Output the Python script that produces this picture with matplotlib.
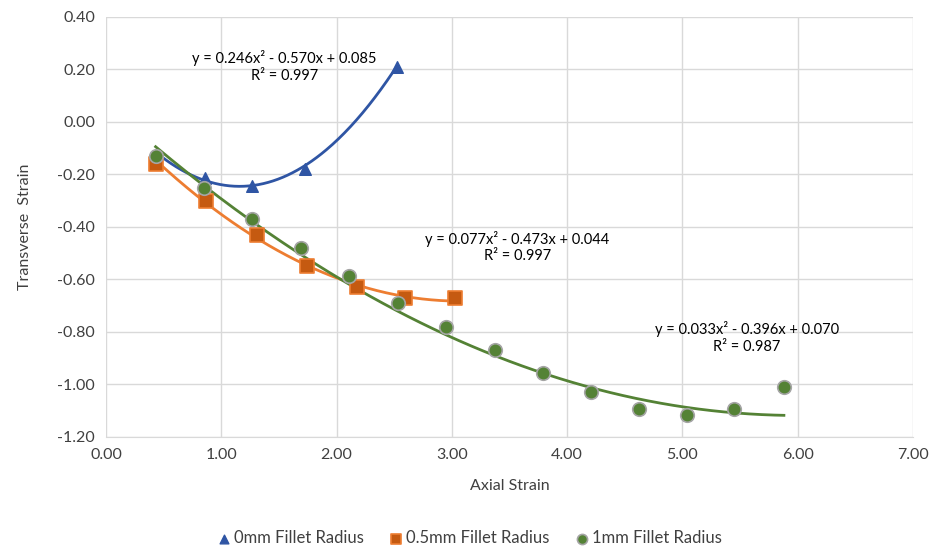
import matplotlib
matplotlib.use('Agg')
import matplotlib.pyplot as plt
import numpy as np

plt.rcParams['font.family'] = ['Lato', 'DejaVu Sans']

# measured points
x_0mm = [0.43, 0.86, 1.27, 1.73, 2.52]
y_0mm = [-0.13, -0.213, -0.244, -0.179, 0.21]

x_05mm = [0.43, 0.87, 1.31, 1.74, 2.18, 2.59, 3.03]
y_05mm = [-0.16, -0.30, -0.43, -0.55, -0.63, -0.67, -0.67]

x_1mm = [0.43, 0.85, 1.27, 1.69, 2.11, 2.53, 2.95, 3.37, 3.79, 4.21, 4.62, 5.04, 5.45, 5.88]
y_1mm = [-0.13, -0.25, -0.37, -0.48, -0.585, -0.69, -0.78, -0.87, -0.955, -1.03, -1.095, -1.115, -1.095, -1.01]

# poly trend line coefficients (as printed on the chart)
fit_0mm = [0.246, -0.570, 0.085]
fit_05mm = [0.077, -0.473, 0.044]
fit_1mm = [0.033, -0.396, 0.070]
r2_vals = [0.997, 0.997, 0.987]

labels = ['0mm Fillet Radius', '0.5mm Fillet Radius', '1mm Fillet Radius']

fig = plt.figure(figsize=(9.4, 5.48), dpi=100)
ax = fig.add_axes([0.1128, 0.2026, 0.8585, 0.7664])

# trend lines
for xs, coef, col in [(x_0mm, fit_0mm, '#2F55A4'),
                      (x_05mm, fit_05mm, '#ED7D31'),
                      (x_1mm, fit_1mm, '#548235')]:
    xx = np.linspace(min(xs), max(xs), 200)
    ax.plot(xx, np.polyval(coef, xx), color=col, lw=2, zorder=2)

ax.scatter(x_0mm, y_0mm, marker='^', s=70, color='#2F55A4', edgecolor='#2F55A4', zorder=3, label=labels[0])
ax.scatter(x_05mm, y_05mm, marker='s', s=90, color='#C55A11', edgecolor='#ED7D31', linewidth=1.2, zorder=4, label=labels[1])
ax.scatter(x_1mm, y_1mm, marker='o', s=95, color='#548235', edgecolor='#A5A5A5', linewidth=1.2, zorder=5, label=labels[2])

def eq_text(coef, r2):
    return 'y = %.3fx² - %.3fx + %.3f\nR² = %.3f' % (coef[0], -coef[1], coef[2], r2)

ax.text(1.55, 0.21, eq_text(fit_0mm, r2_vals[0]), ha='center', va='center', fontsize=10.5, linespacing=1.25)
ax.text(3.57, -0.476, eq_text(fit_05mm, r2_vals[1]), ha='center', va='center', fontsize=10.5, linespacing=1.25)
ax.text(5.56, -0.822, eq_text(fit_1mm, r2_vals[2]), ha='center', va='center', fontsize=10.5, linespacing=1.25)

ax.set_xlim(0, 7)
ax.set_ylim(-1.2, 0.4)
ax.set_xticks(np.arange(0, 7.01, 1))
ax.set_yticks(np.arange(-1.2, 0.41, 0.2))

def fmt(v, pos):
    if abs(v) < 1e-9:
        v = 0.0
    return '%.2f' % v

ax.xaxis.set_major_formatter(matplotlib.ticker.FuncFormatter(fmt))
ax.yaxis.set_major_formatter(matplotlib.ticker.FuncFormatter(fmt))
ax.tick_params(length=0, labelsize=11.5, colors='#404040', pad=8)
ax.grid(color='#D9D9D9', lw=1)
ax.set_axisbelow(True)
for s in ['top', 'right', 'left']:
    ax.spines[s].set_visible(False)
ax.spines['bottom'].set_color('#D9D9D9')

ax.set_xlabel('Axial Strain', fontsize=11.5, color='#404040', labelpad=12)
ax.set_ylabel('Transverse  Strain', fontsize=11.5, color='#404040', labelpad=18)

handles, _ = ax.get_legend_handles_labels()
fig.legend(handles, labels, loc='center', bbox_to_anchor=(0.5, 0.018), ncol=3, frameon=False,
           fontsize=12, handlelength=0.7, handletextpad=0.25, columnspacing=1.6,
           markerscale=0.75, labelcolor='#404040')

fig.savefig('out.png', dpi=100)
